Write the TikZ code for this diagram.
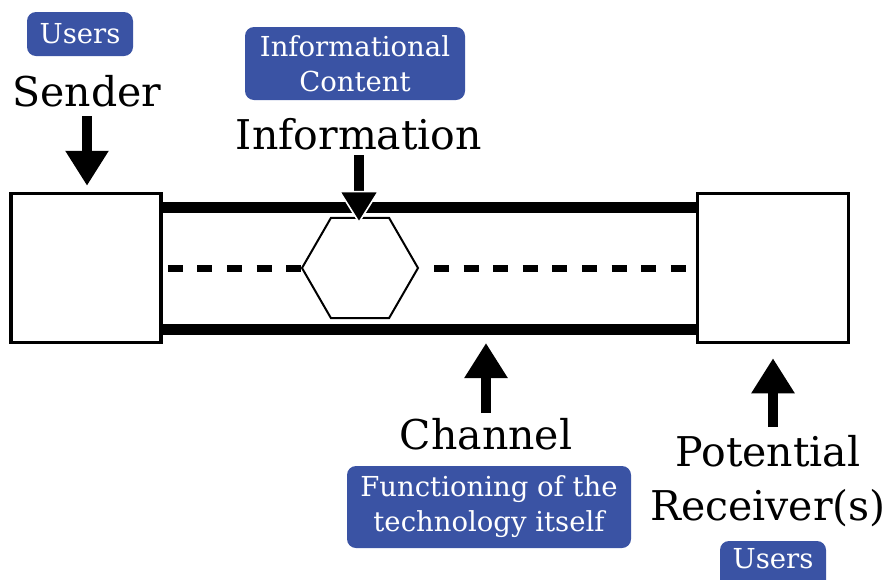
\documentclass[tikz,border=0pt]{standalone}
\usepackage{fontspec}
\setmainfont{DejaVu Serif}
\usetikzlibrary{arrows.meta,shapes.geometric,calc}
\definecolor{boxblue}{RGB}{58,83,164}
\begin{document}
\begin{tikzpicture}[x=1pt,y=-1pt,
  big/.style={font=\fontsize{41}{54}\selectfont, inner sep=0pt, align=center},
  tag/.style={fill=boxblue, text=white, rounded corners=9pt,
    font=\fontsize{27.5}{35}\selectfont, align=center, inner sep=0pt},
  endbox/.style={draw, line width=3.5pt, fill=white, inner sep=0pt,
    minimum width=150pt, minimum height=149pt},
  rail/.style={line width=11pt},
  dashline/.style={line width=7pt, dash pattern=on 15pt off 14.6pt},
  bigarrow/.style={line width=10pt, -{Triangle[length=35pt,width=41pt]}},
  infoarrow/.style={line width=10pt,
    -{Triangle[length=33pt,width=41pt,line width=1.6pt,color=white,fill=black]}},
]
\useasboundingbox (0,0) rectangle (888,579);

% rail heights
\coordinate (rt) at (0,207.5);
\coordinate (rb) at (0,329.5);

% end boxes
\node[endbox] (lbox) at (86,268) {};
\node[endbox, minimum width=151pt] (rbox) at (773,268) {};

% rails
\draw[rail] (lbox.east |- rt) -- (rbox.west |- rt);
\draw[rail] (lbox.east |- rb) -- (rbox.west |- rb);

% hexagon (message)
\node[draw, line width=2pt, fill=white, regular polygon, regular polygon sides=6,
  minimum size=116pt, inner sep=0pt, outer sep=0pt] (hex) at (360,268) {};

% dashed line
\draw[dashline] ([xshift=5pt]lbox.east) -- (hex.west);
\draw[dashline] ([xshift=16pt]hex.east) -- (rbox.west);

% labels
\node[big, anchor=base] (sender) at (87,106) {Sender};
\node[big, anchor=base] (info) at (359,149) {Information};
\node[big, anchor=base] (chan) at (486,449) {Channel};
\node[big, anchor=north] (recv) at (768,435) {Potential\\Receiver(s)};

% blue tags
\node[tag, minimum width=106pt, minimum height=44pt] (usersA) at (80,34) {Users};
\node[tag, minimum width=220pt, minimum height=73pt] (content) at (355,63.5) {Informational\\Content};
\node[tag, minimum width=284pt, minimum height=82pt] (tech) at (489,507) {Functioning of the\\technology itself};
\node[tag, minimum width=106pt, minimum height=50pt, text depth=16pt] (usersB) at (773,566) {Users};

% arrows
\draw[bigarrow] ($(sender.base)+(0,10)$) -- ($(sender.base |- lbox.north)+(0,-6)$);
\draw[infoarrow] ($(info.base)+(0,6)$) -- ($(info.base |- hex.north)+(0,6)$);
\draw[bigarrow] ($(chan.base)+(0,-36)$) -- ($(chan.base |- rb)+(0,13.5)$);
\coordinate (rarrow) at (773,427);
\draw[bigarrow] (rarrow) -- ($(rarrow |- rbox.south)+(0,14)$);
\end{tikzpicture}
\end{document}
